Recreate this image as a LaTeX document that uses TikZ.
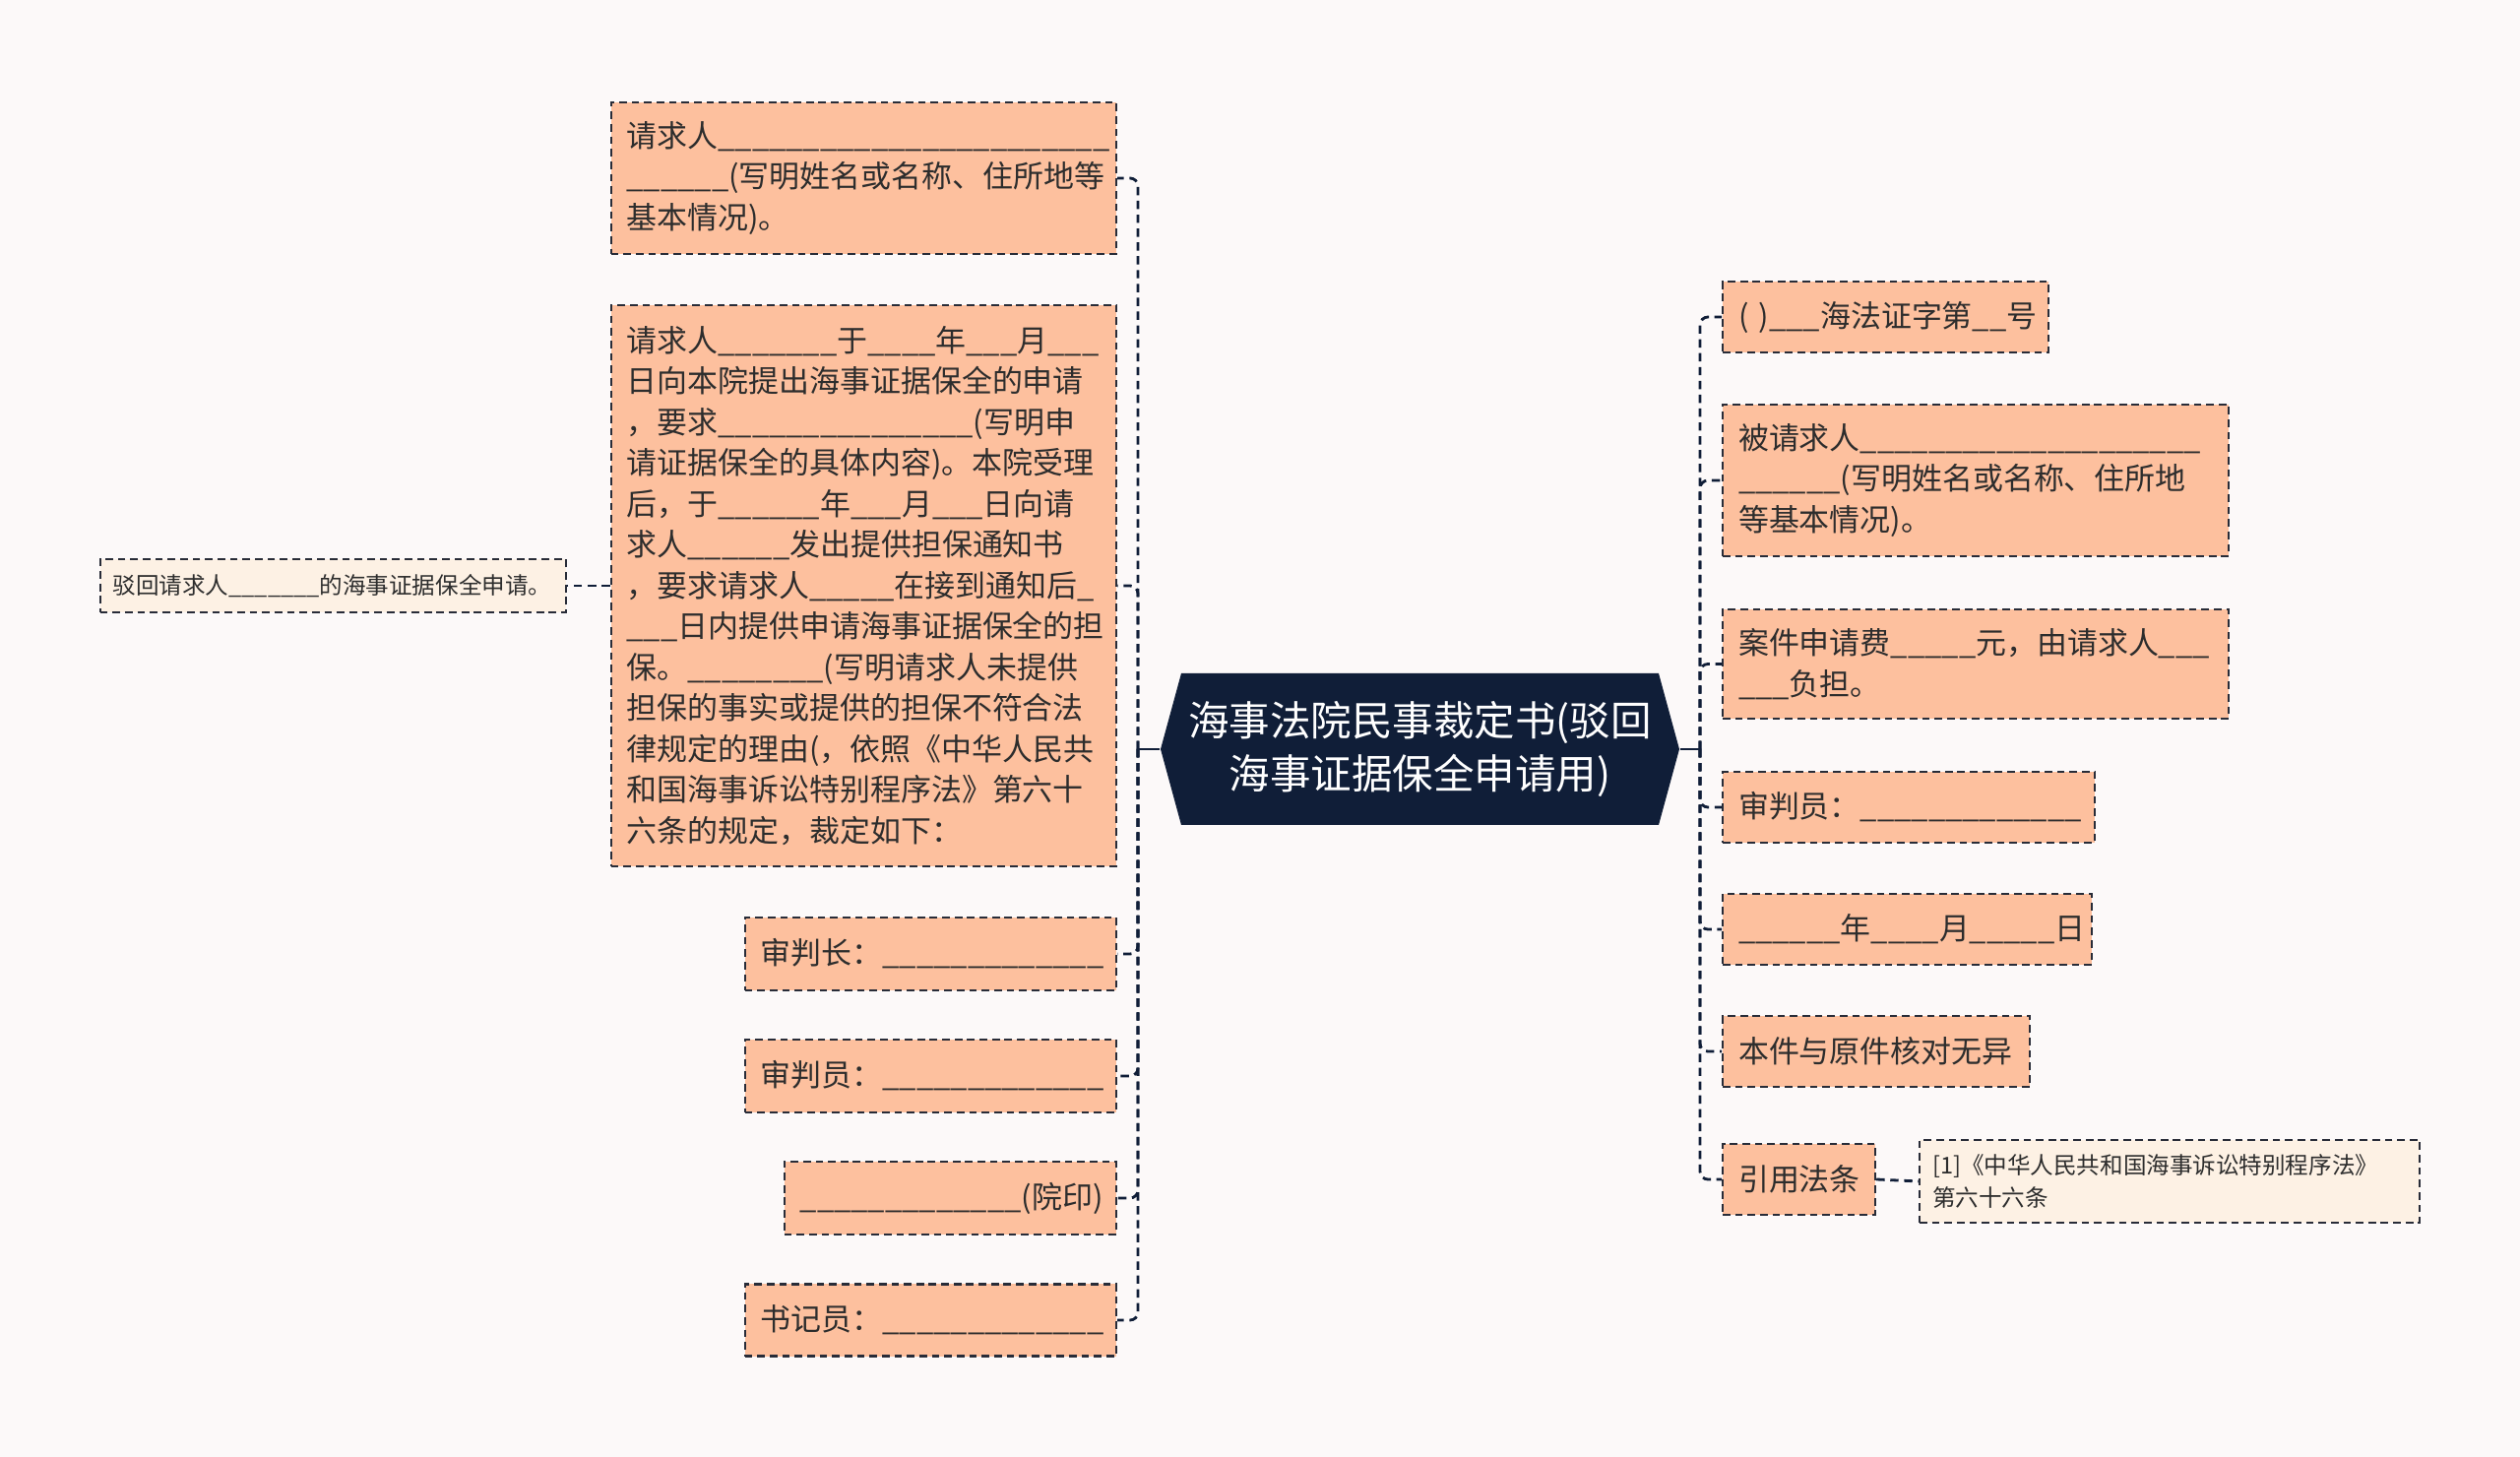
\documentclass[tikz,border=0pt]{standalone}
\usepackage{fontspec}
\setmainfont{Noto Sans CJK SC}

\definecolor{peach}{RGB}{253,192,158}
\definecolor{cream}{RGB}{253,241,228}
\definecolor{navy}{RGB}{16,30,56}
\definecolor{linec}{RGB}{40,44,56}
\definecolor{txt}{RGB}{45,45,45}
\definecolor{bgc}{RGB}{252,249,249}

\tikzset{
  leaf/.style={draw=linec, line width=0.6pt, dash pattern=on 2.2pt off 1.4pt, fill=peach, text=txt,
    align=left, inner xsep=0.16cm, inner ysep=0pt, font=\fontsize{8.8pt}{11.8pt}\selectfont},
  note/.style={leaf, fill=cream, inner xsep=0.13cm, font=\fontsize{6.7pt}{9.3pt}\selectfont},
  link/.style={draw=navy, line width=0.8pt, dash pattern=on 2.4pt off 1.6pt, rounded corners=0.08cm},
}

\begin{document}
\begin{tikzpicture}[x=0.01cm,y=-0.01cm]
\useasboundingbox (0,0) rectangle (2560,1480);
\fill[bgc] (0,0) rectangle (2560,1480);

% centre
\fill[navy] (1179,761) -- (1200,684) -- (1685,684) -- (1706,761) -- (1685,838) -- (1200,838) -- cycle;
\node[text=white, align=center, font=\fontsize{11.8pt}{15.3pt}\selectfont,
  minimum width=5.27cm, minimum height=1.54cm] (root) at (1442.5,761) {海事法院民事裁定书(驳回\\海事证据保全申请用)};
\coordinate (jl) at (1156,761);
\coordinate (jr) at (1727,761);

% left side
\node[leaf, anchor=east, text width=4.81cm, minimum height=1.54cm] (req) at (1135,181)
  {请求人\_\_\_\_\_\_\_\_\_\_\_\_\_\_\_\_\_\_\_\_\_\_\_\\\_\_\_\_\_\_(写明姓名或名称、住所地等\\基本情况)。};
\node[leaf, anchor=east, text width=4.81cm, minimum height=5.70cm] (fact) at (1135,595)
  {请求人\_\_\_\_\_\_\_于\_\_\_\_年\_\_\_月\_\_\_\\
   日向本院提出海事证据保全的申请\\
   ，要求\_\_\_\_\_\_\_\_\_\_\_\_\_\_\_(写明申\\
   请证据保全的具体内容)。本院受理\\
   后，于\_\_\_\_\_\_年\_\_\_月\_\_\_日向请\\
   求人\_\_\_\_\_\_发出提供担保通知书\\
   ，要求请求人\_\_\_\_\_在接到通知后\_\\
   \_\_\_日内提供申请海事证据保全的担\\
   保。\_\_\_\_\_\_\_\_(写明请求人未提供\\
   担保的事实或提供的担保不符合法\\
   律规定的理由(，依照《中华人民共\\
   和国海事诉讼特别程序法》第六十\\
   六条的规定，裁定如下：};
\node[note, anchor=east, text width=4.47cm, minimum height=0.54cm] (reject) at (576,595)
  {驳回请求人\_\_\_\_\_\_\_的海事证据保全申请。};
\node[leaf, anchor=east, text width=3.45cm, minimum height=0.74cm] (chief) at (1135,969)
  {审判长：\_\_\_\_\_\_\_\_\_\_\_\_\_};
\node[leaf, anchor=east, text width=3.45cm, minimum height=0.74cm] (judgeA) at (1135,1093)
  {审判员：\_\_\_\_\_\_\_\_\_\_\_\_\_};
\node[leaf, anchor=east, text width=3.05cm, minimum height=0.74cm] (seal) at (1135,1217)
  {\_\_\_\_\_\_\_\_\_\_\_\_\_(院印)};
\node[leaf, anchor=east, text width=3.45cm, minimum height=0.73cm] (clerk) at (1135,1341)
  {书记员：\_\_\_\_\_\_\_\_\_\_\_\_\_};

% right side
\node[leaf, anchor=west, text width=2.99cm, minimum height=0.72cm] (caseno) at (1749,322)
  {(~)\_\_\_海法证字第\_\_号};
\node[leaf, anchor=west, text width=4.82cm, minimum height=1.54cm] (resp) at (1749,488)
  {被请求人\_\_\_\_\_\_\_\_\_\_\_\_\_\_\_\_\_\_\_\_\\\_\_\_\_\_\_(写明姓名或名称、住所地\\等基本情况)。};
\node[leaf, anchor=west, text width=4.82cm, minimum height=1.11cm] (fee) at (1749,674.5)
  {案件申请费\_\_\_\_\_元，由请求人\_\_\_\\\_\_\_负担。};
\node[leaf, anchor=west, text width=3.46cm, minimum height=0.72cm] (judgeB) at (1749,820)
  {审判员：\_\_\_\_\_\_\_\_\_\_\_\_\_};
\node[leaf, anchor=west, text width=3.43cm, minimum height=0.72cm] (date) at (1749,944)
  {\_\_\_\_\_\_年\_\_\_\_月\_\_\_\_\_日};
\node[leaf, anchor=west, text width=2.80cm, minimum height=0.72cm] (same) at (1749,1068)
  {本件与原件核对无异};
\node[leaf, anchor=west, text width=1.23cm, minimum height=0.72cm] (cite) at (1749,1198)
  {引用法条};
\node[note, anchor=west, text width=4.82cm, minimum height=0.84cm] (law) at (1949,1200)
  {[1]《中华人民共和国海事诉讼特别程序法》\\第六十六条};

% connectors
\draw[navy, line width=0.8pt] (root.west) -- (jl);
\draw[navy, line width=0.8pt] (root.east) -- (jr);
\foreach \n in {req,fact,chief,judgeA,seal,clerk}
  \draw[link] (jl) |- (\n.east);
\foreach \n in {caseno,resp,fee,judgeB,date,same,cite}
  \draw[link] (jr) |- (\n.west);
\draw[link] (fact.west) -- (reject.east);
\draw[link] (cite.east) -- (law.west);
\end{tikzpicture}
\end{document}
